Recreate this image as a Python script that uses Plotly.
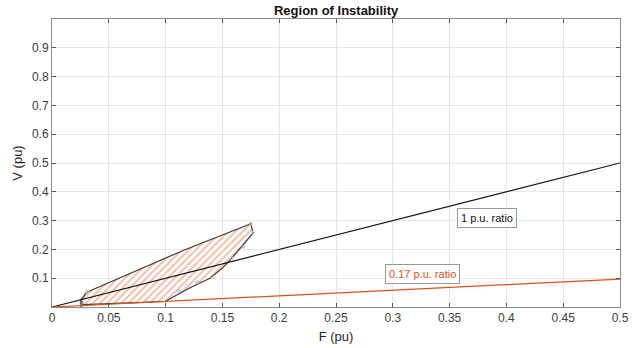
import plotly.graph_objects as go

# Ratio lines
ratio1_F = [0.0, 0.5]
ratio1_V = [0.0, 0.5]
ratio017_F = [0.0, 0.5]
ratio017_V = [0.0, 0.097]

# Region of instability boundary
region_F = [0.0305, 0.117, 0.175, 0.177, 0.158, 0.150, 0.139, 0.121, 0.0995, 0.0276, 0.0255, 0.0255, 0.0305]
region_V = [0.051, 0.199, 0.289, 0.257, 0.168, 0.135, 0.100, 0.066, 0.019, 0.008, 0.002, 0.025, 0.051]

# small boundary markers
mark_F = [0.031, 0.175, 0.177, 0.168, 0.158, 0.141, 0.128, 0.118, 0.112, 0.026]
mark_V = [0.055, 0.29, 0.258, 0.21, 0.17, 0.105, 0.085, 0.072, 0.055, 0.015]
mark_C = ["#B5D68F", "#B5D68F", "#A6DFF7", "#D08A97", "#A6DFF7", "#B5D68F", "#BE97C6", "#A6DFF7", "#80B8DE", "#555555"]

xticks = [0, 0.05, 0.1, 0.15, 0.2, 0.25, 0.3, 0.35, 0.4, 0.45, 0.5]
xticklabels = ["0", "0.05", "0.1", "0.15", "0.2", "0.25", "0.3", "0.35", "0.4", "0.45", "0.5"]
yticks = [0.1, 0.2, 0.3, 0.4, 0.5, 0.6, 0.7, 0.8, 0.9]
yticklabels = ["0.1", "0.2", "0.3", "0.4", "0.5", "0.6", "0.7", "0.8", "0.9"]

ORANGE = "#D95319"

fig = go.Figure()
fig.add_trace(go.Scatter(
    x=region_F, y=region_V, mode="lines", fill="toself",
    fillcolor="rgba(0,0,0,0)",
    fillpattern=dict(shape="/", fgcolor="#E8733F", bgcolor="white", size=5, solidity=0.35),
    line=dict(color="#3a3a3a", width=1.2), hoverinfo="skip", showlegend=False))
fig.add_trace(go.Scatter(
    x=mark_F, y=mark_V, mode="markers",
    marker=dict(color="rgba(0,0,0,0)", size=3, line=dict(color=mark_C, width=1)),
    showlegend=False))
fig.add_trace(go.Scatter(x=ratio1_F, y=ratio1_V, mode="lines",
                         line=dict(color="#111111", width=1.2), showlegend=False))
fig.add_trace(go.Scatter(x=ratio017_F, y=ratio017_V, mode="lines",
                         line=dict(color=ORANGE, width=1.2), showlegend=False))

fig.add_annotation(x=0.3825, y=0.31, text="1 p.u. ratio", showarrow=False,
                   font=dict(color="#111111", size=11), bgcolor="white",
                   bordercolor="#999999", borderwidth=1, borderpad=3)
fig.add_annotation(x=0.326, y=0.116, text="0.17 p.u. ratio", showarrow=False,
                   font=dict(color=ORANGE, size=11), bgcolor="white",
                   bordercolor="#999999", borderwidth=1, borderpad=3)

axis_common = dict(showgrid=True, gridcolor="#e6e6e6", gridwidth=1,
                   showline=True, linecolor="#8c8c8c", linewidth=1, mirror="ticks",
                   ticks="inside", ticklen=4, tickcolor="#555555", automargin=False,
                   tickfont=dict(size=12, color="#3c3c3c"), zeroline=False)

fig.update_layout(
    width=639, height=348,
    margin=dict(l=52, r=19, t=19, b=41),
    paper_bgcolor="white", plot_bgcolor="white",
    font=dict(family="Liberation Sans, Arial, sans-serif", color="#262626"),
    title=dict(text="<b>Region of Instability</b>", x=0.526, xanchor="center",
               y=0.983, yanchor="top", font=dict(size=13, color="#111111"),
               automargin=False),
    xaxis=dict(range=[0, 0.5], tickvals=xticks, ticktext=xticklabels,
               title=dict(text="F (pu)", font=dict(size=13, color="#262626"), standoff=7),
               **axis_common),
    yaxis=dict(range=[0, 1.0], tickvals=yticks, ticktext=yticklabels,
               title=dict(text="V (pu)", font=dict(size=13, color="#262626"), standoff=6),
               **axis_common),
)

fig.write_html("out.html")
